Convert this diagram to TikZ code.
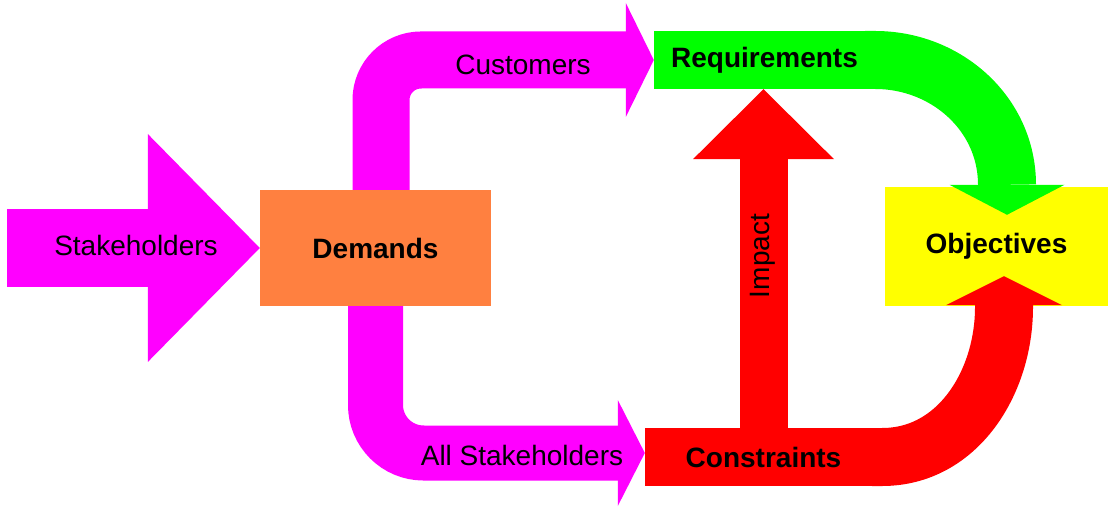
\documentclass[tikz,border=0pt]{standalone}
\usepackage{fontspec}
\setmainfont{Liberation Sans}
\usepackage{tikz}
\usetikzlibrary{arrows.meta,positioning}
\definecolor{mag}{HTML}{FF00FF}
\definecolor{org}{HTML}{FF8040}
\definecolor{grn}{HTML}{00FF00}
\definecolor{rd}{HTML}{FF0000}
\definecolor{ylw}{HTML}{FFFF00}
\newcommand{\lblfont}[0]{\fontsize{28}{32}\selectfont}

\begin{document}
\begin{tikzpicture}[x=1pt,y=1pt,
                    box/.style={inner sep=0pt, font=\lblfont\bfseries},
                    lbl/.style={font=\lblfont}]
                \useasboundingbox (0,0) rectangle (1110,506);
                \node[box, fill=org, minimum width=231pt, minimum height=116pt] (dem) at (375.5,258) {Demands};
                \node[box, fill=grn, minimum width=221pt, minimum height=58pt] (req) at (764.5,446) {Requirements};
                \node[box, fill=rd, minimum width=237pt, minimum height=58pt] (con) at (763.5,49) {Constraints};
                \node[box, fill=ylw, minimum width=223pt, minimum height=119pt] (obj) at (996.5,259.5) {Objectives};
                \coordinate (src) at (7,258);

                \draw[mag, line width=78pt, -{Triangle[length=112pt, width=228pt, line width=0pt]}]
                    (src) -- (dem.west);
                \draw[mag, line width=57pt, rounded corners=40pt, -{Triangle[length=28pt, width=114pt, line width=0pt]}]
                    ([xshift=5.5pt]dem.north) |- (req.west);
                \draw[mag, line width=55pt, rounded corners=48pt, -{Triangle[length=27pt, width=106pt, line width=0pt]}]
                    (dem.south) |- ([yshift=4pt]con.west);
                \draw[rd, line width=48pt, -{Triangle[length=70pt, width=141pt, line width=0pt]}]
                    ([yshift=-6pt]con.north) -- (con.north |- req.south);
                \draw[grn, line width=58pt, -{Triangle[length=30pt, width=115pt, line width=0pt]}]
                    ([xshift=-10pt]req.east) -- (req.east) to[out=0, in=90] ([xshift=10.5pt, yshift=2pt]obj.north)
                    -- ([xshift=10.5pt, yshift=-28pt]obj.north);
                \draw[rd, line width=58pt, -{Triangle[length=29pt, width=116pt, line width=0pt]}]
                    ([xshift=-10pt]con.east) -- (con.east) to[out=0, in=-90] ([xshift=7.5pt, yshift=-1pt]obj.south)
                    -- ([xshift=7.5pt, yshift=30pt]obj.south);

                \node[lbl] (stk) at (136,261) {Stakeholders};
                \node[lbl] (cus) at (523,441) {Customers};
                \node[lbl] (all) at (522,51) {All Stakeholders};
                \node[lbl, rotate=90] (imp) at (763,250) {Impact};
            \end{tikzpicture}
\end{document}
